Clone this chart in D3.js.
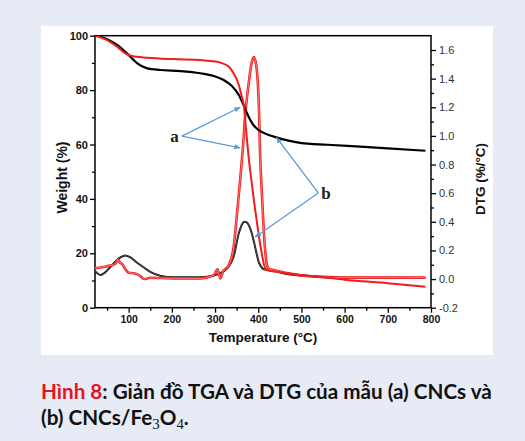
<!DOCTYPE html>
<html>
<head>
<meta charset="utf-8">
<script src="https://cdn.jsdelivr.net/npm/d3@7"></script>
<style>
  body { margin: 0; background: #e7ebf6; }
  svg { display: block; }
</style>
</head>
<body>
<svg id="mainsvg" width="525" height="441"></svg>
<script>
// TGA (weight %, left axis) and DTG (%/°C, right axis)
const tgaCNC = [[22,100],[35,99.6],[50,98.7],[73,96.6],[96,93.5],[110,91.3],[120,89.8],[143,88.0],[173,87.4],[220,87.0],[266,86.2],[297,85.2],[320,83.7],[339,81.5],[355,78.2],[366,74.5],[374,71.5],[386,67.8],[401,65.3],[420,63.8],[436,62.9],[470,61.4],[497,60.6],[560,59.9],[636,59.2],[700,58.6],[787,57.7]]
const tgaFe = [[22,100],[50,98.4],[73,96.0],[92,93.5],[108,92.5],[143,91.9],[204,91.4],[266,91.1],[289,90.7],[312,90.1],[332,88.6],[343,86.2],[355,81.9],[362,77.5],[366,75],[372,65],[378,55],[384,47],[392,37],[400,28],[408,20],[414,15.5],[420,13.8],[450,13.0],[500,12.0],[550,11.2],[600,10.3],[700,9.0],[787,7.7]]
const dtgCNC = [[22,0.055],[35,0.028],[45,0.045],[58,0.086],[70,0.125],[81,0.151],[92,0.165],[104,0.151],[115,0.125],[127,0.098],[150,0.051],[173,0.023],[204,0.012],[243,0.012],[282,0.016],[305,0.033],[328,0.075],[343,0.156],[355,0.32],[362,0.38],[368,0.40],[374,0.395],[378,0.377],[384,0.33],[390,0.26],[396,0.18],[401,0.12],[407,0.085],[413,0.068],[436,0.058],[470,0.033],[500,0.025],[550,0.015],[600,0.01],[700,0.009],[787,0.008]]
const dtgFe = [[22,0.075],[50,0.09],[62,0.098],[70,0.11],[75,0.137],[80,0.115],[85,0.105],[92,0.07],[100,0.044],[112,0.04],[127,0.021],[135,0.0],[150,0.009],[204,0.005],[266,0.005],[297,0.028],[306,0.068],[312,0.005],[318,0.05],[332,0.098],[343,0.225],[351,0.46],[358,0.69],[364,0.9],[370,1.15],[378,1.37],[384,1.50],[390,1.55],[395,1.50],[399,1.37],[402,1.15],[404,0.9],[408,0.62],[412,0.38],[416,0.2],[420,0.1],[425,0.07],[440,0.06],[470,0.04],[500,0.025],[550,0.015],[600,0.01],[700,0.01],[787,0.01]]

// axis ticks
const xTicks = [100,200,300,400,500,600,700,800]
const xMinor = [50,150,250,350,450,550,650,750]
const wTicks = [0,20,40,60,80,100]
const wMinor = [10,30,50,70,90]
const dTicks = [-0.2,0,0.2,0.4,0.6,0.8,1.0,1.2,1.4,1.6]
const dMinor = [-0.1,0.1,0.3,0.5,0.7,0.9,1.1,1.3,1.5]

// annotation anchors in (°C, weight %)
const labelA = {t: 206, w: 61, from: [223, 63.1], to: [[358, 73.7], [358, 58.8]]}
const labelB = {t: 557, w: 40, from: [539, 42.2], to: [[442, 62.6], [393, 26]]}

const plot = {left: 95, right: 431, top: 35.7, bottom: 307.7}
const axisFont = 'Liberation Sans, Arial, sans-serif'
const blue = '#5b9bd5'

const svg = d3.select('#mainsvg')

// white figure panel
svg.append('rect')
  .attr('x', 41).attr('y', 26)
  .attr('width', 452).attr('height', 329)
  .attr('fill', '#ffffff')

const x = d3.scaleLinear().domain([22, 800]).range([plot.left, plot.right])
const yW = d3.scaleLinear().domain([0, 100]).range([plot.bottom, plot.top])
const yD = d3.scaleLinear().domain([-0.2, 1.7]).range([plot.bottom, plot.top])

svg.append('defs').append('clipPath').attr('id', 'plotClip')
  .append('rect')
  .attr('x', plot.left).attr('y', plot.top)
  .attr('width', plot.right - plot.left).attr('height', plot.bottom - plot.top)

const marker = svg.select('defs').append('marker')
  .attr('id', 'arrowBlue')
  .attr('viewBox', '0 0 10 10')
  .attr('refX', 9).attr('refY', 5)
  .attr('markerWidth', 5).attr('markerHeight', 5)
  .attr('orient', 'auto')
marker.append('path').attr('d', 'M0,1 L10,5 L0,9 z').attr('fill', blue)

// axes
function styleAxis(g, bold, size, color) {
  g.select('.domain').remove()
  g.selectAll('line').attr('stroke', '#000').attr('stroke-width', 1.3)
  g.selectAll('text')
    .attr('font-family', axisFont)
    .attr('font-size', size)
    .attr('font-weight', bold ? 'bold' : 'normal')
    .attr('fill', color)
}

const gx = svg.append('g').attr('transform', `translate(0,${plot.bottom})`)
  .call(d3.axisBottom(x).tickValues(xTicks).tickSize(5).tickPadding(3).tickFormat(d3.format('d')))
styleAxis(gx, true, 10.5, '#111')
const gxm = svg.append('g').attr('transform', `translate(0,${plot.bottom})`)
  .call(d3.axisBottom(x).tickValues(xMinor).tickSize(3).tickFormat(''))
styleAxis(gxm, true, 10, '#111')

const gy = svg.append('g').attr('transform', `translate(${plot.left},0)`)
  .call(d3.axisLeft(yW).tickValues(wTicks).tickSize(5).tickPadding(2).tickFormat(d3.format('d')))
styleAxis(gy, true, 11, '#111')
const gym = svg.append('g').attr('transform', `translate(${plot.left},0)`)
  .call(d3.axisLeft(yW).tickValues(wMinor).tickSize(3).tickFormat(''))
styleAxis(gym, true, 10, '#111')

const gr = svg.append('g').attr('transform', `translate(${plot.right},0)`)
  .call(d3.axisRight(yD).tickValues(dTicks).tickSize(5).tickPadding(3)
    .tickFormat(d => d3.format('.1f')(d).replace('\u2212', '-')))
styleAxis(gr, false, 11, '#333')
const grm = svg.append('g').attr('transform', `translate(${plot.right},0)`)
  .call(d3.axisRight(yD).tickValues(dMinor).tickSize(3).tickFormat(''))
styleAxis(grm, false, 10, '#333')

// frame
svg.append('rect')
  .attr('x', plot.left).attr('y', plot.top)
  .attr('width', plot.right - plot.left).attr('height', plot.bottom - plot.top)
  .attr('fill', 'none').attr('stroke', '#000').attr('stroke-width', 1.5)

// axis titles
svg.append('text')
  .attr('x', (plot.left + plot.right) / 2).attr('y', 341.5)
  .attr('text-anchor', 'middle')
  .attr('font-family', axisFont).attr('font-weight', 'bold').attr('font-size', 13.5)
  .attr('fill', '#111')
  .text('Temperature (°C)')

svg.append('text')
  .attr('transform', 'translate(67,177.5) rotate(-90)')
  .attr('text-anchor', 'middle')
  .attr('font-family', axisFont).attr('font-weight', 'bold').attr('font-size', 14)
  .attr('fill', '#111')
  .text('Weight (%)')

svg.append('text')
  .attr('transform', 'translate(485,179) rotate(-90)')
  .attr('text-anchor', 'middle')
  .attr('font-family', axisFont).attr('font-weight', 'bold').attr('font-size', 13.5)
  .attr('fill', '#111')
  .text('DTG (%/°C)')

// curves
const lineW = d3.line().x(d => x(d[0])).y(d => yW(d[1])).curve(d3.curveMonotoneX)
const lineD = d3.line().x(d => x(d[0])).y(d => yD(d[1])).curve(d3.curveMonotoneX)
const curves = svg.append('g').attr('clip-path', 'url(#plotClip)')

curves.append('path').attr('d', lineD(dtgCNC))
  .attr('fill', 'none').attr('stroke', '#111').attr('stroke-width', 2)
curves.append('path').attr('d', lineD(dtgCNC))
  .attr('fill', 'none').attr('stroke', '#8a8a8a').attr('stroke-width', 0.5)

curves.append('path').attr('d', lineD(dtgFe))
  .attr('fill', 'none').attr('stroke', '#f21c1c').attr('stroke-width', 2.6)
curves.append('path').attr('d', lineD(dtgFe))
  .attr('fill', 'none').attr('stroke', '#ffb4b4').attr('stroke-width', 0.6)

curves.append('path').attr('d', lineW(tgaCNC))
  .attr('fill', 'none').attr('stroke', '#000').attr('stroke-width', 2.2)
curves.append('path').attr('d', lineW(tgaFe))
  .attr('fill', 'none').attr('stroke', '#f21c1c').attr('stroke-width', 2)

// a / b annotations
function drawLabel(lab, txt) {
  lab.to.forEach(p => {
    svg.append('line')
      .attr('x1', x(lab.from[0])).attr('y1', yW(lab.from[1]))
      .attr('x2', x(p[0])).attr('y2', yW(p[1]))
      .attr('stroke', blue).attr('stroke-width', 1.3)
      .attr('marker-end', 'url(#arrowBlue)')
  })
  svg.append('text')
    .attr('x', x(lab.t)).attr('y', yW(lab.w))
    .attr('text-anchor', 'middle')
    .attr('font-family', 'Liberation Serif, Times New Roman, serif')
    .attr('font-weight', 'bold').attr('font-size', 17)
    .attr('fill', '#222')
    .text(txt)
}
drawLabel(labelA, 'a')
drawLabel(labelB, 'b')

// caption
const capFont = 'Lato, Noto Sans, sans-serif'
const cap1 = svg.append('text')
  .attr('x', 41).attr('y', 399)
  .attr('font-family', capFont).attr('font-weight', 'bold').attr('font-size', 19)
  .attr('fill', '#111')
cap1.append('tspan').attr('fill', '#e8141c').text('Hình 8')
cap1.append('tspan').text(': Giản đồ TGA và DTG của mẫu (a) CNCs và')

let fs = 19 * 451 / cap1.node().getComputedTextLength()
cap1.attr('font-size', fs)

const cap2 = svg.append('text')
  .attr('x', 41).attr('y', 425)
  .attr('font-family', capFont).attr('font-weight', 'bold').attr('font-size', fs)
  .attr('fill', '#111')
cap2.append('tspan').text('(b) CNCs/Fe')
cap2.append('tspan').attr('dy', 4)
  .attr('font-family', 'Liberation Serif, serif').attr('font-weight', 'normal').attr('font-size', fs * 0.72)
  .text('3')
cap2.append('tspan').attr('dy', -4).text('O')
cap2.append('tspan').attr('dy', 4)
  .attr('font-family', 'Liberation Serif, serif').attr('font-weight', 'normal').attr('font-size', fs * 0.72)
  .text('4')
cap2.append('tspan').attr('dy', -4).text('.')
</script>
</body>
</html>
